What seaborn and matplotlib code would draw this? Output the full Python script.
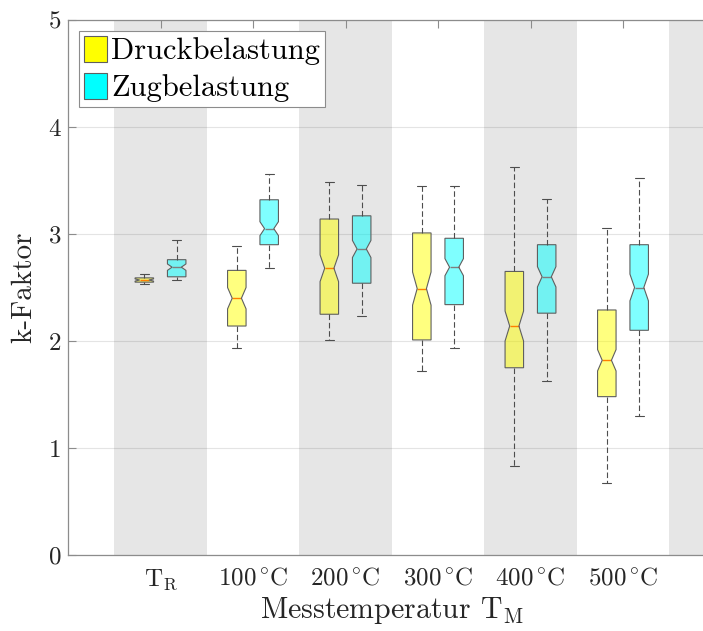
import matplotlib
matplotlib.use("Agg")
import matplotlib.pyplot as plt
from matplotlib.patches import Patch
import seaborn as sns

# Measuring temperatures (x categories)
tick_labels = [r"$\mathrm{T_R}$", r"$\mathrm{100^\circ\!C}$", r"$\mathrm{200^\circ\!C}$",
               r"$\mathrm{300^\circ\!C}$", r"$\mathrm{400^\circ\!C}$", r"$\mathrm{500^\circ\!C}$"]

# Compression loading: whisker ends, quartiles, median, notch bounds
druck_lo = [2.53, 1.93, 2.01, 1.72, 0.83, 0.67]
druck_q1 = [2.55, 2.14, 2.25, 2.01, 1.75, 1.48]
druck_med = [2.57, 2.40, 2.68, 2.49, 2.14, 1.82]
druck_q3 = [2.59, 2.66, 3.14, 3.01, 2.65, 2.29]
druck_hi = [2.63, 2.89, 3.49, 3.45, 3.63, 3.06]
druck_ci_lo = [2.56, 2.30, 2.555, 2.335, 2.00, 1.72]
druck_ci_hi = [2.58, 2.50, 2.805, 2.645, 2.28, 1.92]

# Tensile loading
zug_lo = [2.57, 2.68, 2.23, 1.93, 1.63, 1.30]
zug_q1 = [2.60, 2.90, 2.54, 2.34, 2.26, 2.10]
zug_med = [2.69, 3.05, 2.86, 2.69, 2.60, 2.50]
zug_q3 = [2.76, 3.32, 3.17, 2.96, 2.90, 2.90]
zug_hi = [2.94, 3.56, 3.46, 3.45, 3.33, 3.52]
zug_ci_lo = [2.66, 2.985, 2.78, 2.61, 2.505, 2.375]
zug_ci_hi = [2.72, 3.115, 2.94, 2.77, 2.695, 2.625]

series_names = ["Druckbelastung", "Zugbelastung"]

sns.set_theme(style="white")
plt.rcParams["font.family"] = ["cmr10", "DejaVu Serif"]
plt.rcParams["mathtext.fontset"] = "cm"
plt.rcParams["axes.unicode_minus"] = False
plt.rcParams["axes.formatter.use_mathtext"] = True

TEXT = "#262626"
AX = "#8c8c8c"
EDGE = "#5f5f5f"


def stats(lo, q1, med, q3, hi, cilo, cihi):
    return [dict(whislo=a, q1=b, med=c, q3=d, whishi=e, cilo=f, cihi=g, fliers=[])
            for a, b, c, d, e, f, g in zip(lo, q1, med, q3, hi, cilo, cihi)]


fig = plt.figure(figsize=(7.03, 6.31), dpi=100)
W, H = 703, 631
ax = fig.add_axes([68 / W, 76 / H, 647.5 / W, 535 / H])

n = len(tick_labels)
centers = list(range(1, n + 1))

# alternating grey bands behind every other category
for c in range(1, n + 2, 2):
    ax.axvspan(c - 0.5, c + 0.5, color="#e6e6e6", lw=0, zorder=0)

ax.yaxis.grid(True, color=TEXT, alpha=0.12, lw=0.8, zorder=0.5)
ax.xaxis.grid(False)

groups = [
    (stats(druck_lo, druck_q1, druck_med, druck_q3, druck_hi, druck_ci_lo, druck_ci_hi),
     -0.175, (1.0, 1.0, 0.0, 0.5)),
    (stats(zug_lo, zug_q1, zug_med, zug_q3, zug_hi, zug_ci_lo, zug_ci_hi),
     0.175, (0.0, 1.0, 1.0, 0.5)),
]
for st, off, face in groups:
    ax.bxp(st, positions=[c + off for c in centers], widths=0.2,
           shownotches=True, patch_artist=True, manage_ticks=False,
           showfliers=False,
           boxprops=dict(facecolor=face, edgecolor=EDGE, linewidth=0.8, zorder=2),
           medianprops=dict(color="red", linewidth=1.0, zorder=1.9),
           whiskerprops=dict(color="#4d4d4d", linewidth=0.8, linestyle=(0, (5, 2.5))),
           capprops=dict(color="#4d4d4d", linewidth=0.8))

ax.set_xlim(0, 7)
ax.set_ylim(0, 5)
ax.set_xticks(centers)
ax.set_xticklabels(tick_labels, fontsize=18, color=TEXT)
ax.set_yticks(range(0, 6))
ax.set_yticklabels([str(v) for v in range(0, 6)], fontsize=18, color=TEXT)
ax.tick_params(axis="both", direction="in", length=5.5, width=0.8, color=AX)
ax.tick_params(axis="x", top=True, labeltop=False, pad=9)
ax.tick_params(axis="y", left=True, right=False, pad=5)

for side in ["left", "top", "bottom"]:
    ax.spines[side].set_color(AX)
    ax.spines[side].set_linewidth(0.9)
ax.spines["right"].set_visible(False)

ax.set_xlabel(r"Messtemperatur $\mathrm{T_M}$", fontsize=21.5, color=TEXT, labelpad=2)
ax.set_ylabel("k-Faktor", fontsize=21, color=TEXT, labelpad=8)

handles = [Patch(facecolor="yellow", edgecolor=EDGE, lw=0.8),
           Patch(facecolor="cyan", edgecolor=EDGE, lw=0.8)]
leg = ax.legend(handles, series_names, loc="upper left",
                bbox_to_anchor=(0.017, 0.979), borderaxespad=0,
                fontsize=22, frameon=True, fancybox=False, framealpha=1,
                edgecolor=AX, handlelength=0.75, handleheight=0.92,
                handletextpad=0.15, borderpad=0.15, labelspacing=0.25)
leg.get_frame().set_linewidth(0.8)
for t in leg.get_texts():
    t.set_color("black")

fig.savefig("out.png", dpi=100)
